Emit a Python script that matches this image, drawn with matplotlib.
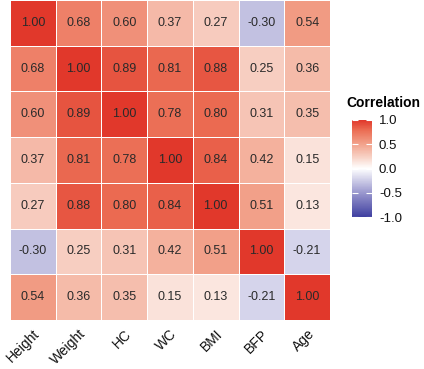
import numpy as np
import matplotlib
matplotlib.use("Agg")
from matplotlib import pyplot as plt
from matplotlib.colors import LinearSegmentedColormap

plt.rcParams['font.family'] = ['Liberation Sans', 'DejaVu Sans']

labels = ["Height", "Weight", "HC", "WC", "BMI", "BFP", "Age"]
corr = np.array([
    [1.00, 0.68, 0.60, 0.37, 0.27, -0.30, 0.54],
    [0.68, 1.00, 0.89, 0.81, 0.88, 0.25, 0.36],
    [0.60, 0.89, 1.00, 0.78, 0.80, 0.31, 0.35],
    [0.37, 0.81, 0.78, 1.00, 0.84, 0.42, 0.15],
    [0.27, 0.88, 0.80, 0.84, 1.00, 0.51, 0.13],
    [-0.30, 0.25, 0.31, 0.42, 0.51, 1.00, -0.21],
    [0.54, 0.36, 0.35, 0.15, 0.13, -0.21, 1.00],
])
cbar_ticks = [-1.0, -0.5, 0.0, 0.5, 1.0]

# градиент как в ggplot (примерно, с промежуточными точками)
cmap = LinearSegmentedColormap.from_list("rwb", [
    (0.0, "#3F3FA0"), (0.25, "#9A98CE"), (0.5, "#FFFFFF"),
    (0.625, "#F7CFC2"), (0.75, "#F2A38C"), (0.9, "#EB6B52"), (1.0, "#E1382B")])

fig = plt.figure(figsize=(4.24, 3.69), dpi=100)
ax = fig.add_axes([10/424, 1-320/369, 320/424, 320/369])

n = len(labels)
mesh = ax.pcolormesh(np.arange(n+1), np.arange(n+1), corr, cmap=cmap, vmin=-1, vmax=1,
                     edgecolor="white", linewidth=0.6)
ax.set_xlim(0, n)
ax.set_ylim(n, 0)
for i in range(n):
    for j in range(n):
        ax.text(j+0.5, i+0.5, "%.2f" % corr[i, j], ha="center", va="center",
                fontsize=9, color="#2a2a2a")

ax.set_xticks(np.arange(n)+0.5)
ax.set_xticklabels(labels, rotation=45, ha="right", rotation_mode="anchor",
                   fontsize=10, color="#111111")
ax.set_yticks([])
ax.tick_params(axis="x", length=0, pad=5)
for s in ax.spines.values():
    s.set_visible(False)

# легенда
cax = fig.add_axes([352/424, 1-217/369, 20/424, 97/369])
cb = fig.colorbar(mesh, cax=cax, ticks=cbar_ticks)
cb.outline.set_visible(False)
cb.ax.set_yticklabels(["%.1f" % t for t in cbar_ticks], fontsize=9.5, color="#111111")
cb.ax.tick_params(length=4, color="white", direction="in", pad=5, left=True)
fig.text(346/424, 1-103/369, "Correlation", fontsize=10, fontweight="bold", va="center")

fig.savefig("out.png", dpi=100)
